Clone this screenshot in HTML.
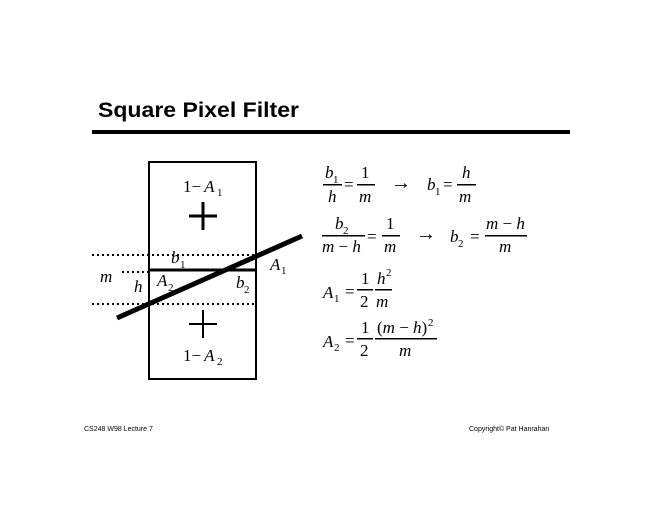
<!DOCTYPE html>
<html><head><style>
html,body{margin:0;padding:0;background:#fff;width:660px;height:510px;overflow:hidden}
svg{display:block}
.t{font-family:"Liberation Serif",serif;font-size:17px}
.i{font-style:italic}
.s{font-size:11px}
</style></head><body>
<svg width="660" height="510" viewBox="0 0 660 510">
<text x="98" y="117" font-family="Liberation Sans,sans-serif" font-weight="bold" font-size="21" textLength="201" lengthAdjust="spacingAndGlyphs">Square Pixel Filter</text>
<rect x="92" y="130" width="478" height="4" fill="#000"/>
<text x="84" y="431" font-family="Liberation Sans,sans-serif" font-size="7">CS248 W98 Lecture 7</text>
<text x="469" y="431" font-family="Liberation Sans,sans-serif" font-size="7">Copyright© Pat Hanrahan</text>

<rect x="149" y="162" width="107" height="217" fill="none" stroke="#000" stroke-width="2"/>
<g stroke="#000" stroke-width="2" stroke-dasharray="2,3">
<line x1="92" y1="255" x2="256" y2="255"/>
<line x1="122" y1="272" x2="148" y2="272"/>
<line x1="92" y1="304" x2="256" y2="304"/>
</g>
<line x1="148" y1="270" x2="256" y2="270" stroke="#000" stroke-width="3"/>
<line x1="117" y1="318" x2="302" y2="236" stroke="#000" stroke-width="5"/>
<g stroke="#000" stroke-width="3"><line x1="189" y1="216" x2="217" y2="216"/><line x1="203" y1="202" x2="203" y2="230"/></g>
<g stroke="#000" stroke-width="2"><line x1="189" y1="324" x2="217" y2="324"/><line x1="203" y1="310" x2="203" y2="338"/></g>
<g class="t">
<text x="183" y="192">1−<tspan class="i" dx="3">A</tspan></text><text x="217" y="196" class="s">1</text>
<text x="183" y="361">1−<tspan class="i" dx="3">A</tspan></text><text x="217" y="365" class="s">2</text>
<text x="100" y="282" class="i">m</text>
<text x="134" y="292" class="i">h</text>
<text x="157" y="286" class="i">A</text><text x="168" y="291" class="s">2</text>
<text x="171" y="263" class="i">b</text><text x="180" y="268" class="s">1</text>
<text x="236" y="288" class="i">b</text><text x="244" y="293" class="s">2</text>
<text x="270" y="270" class="i">A</text><text x="281" y="274" class="s">1</text>
</g>

<g class="t" fill="#000">
<text x="325" y="178" class="i">b</text><text x="333" y="183" class="s">1</text>
<text x="328" y="202" class="i">h</text>
<rect x="323" y="184" width="19" height="1.5"/>
<text x="344" y="190">=</text>
<text x="361" y="178">1</text><text x="359" y="202" class="i">m</text>
<rect x="357" y="184" width="18" height="1.5"/>
<text x="391" y="189" font-size="20">→</text>
<text x="427" y="190" class="i">b</text><text x="435" y="195" class="s">1</text>
<text x="443" y="190">=</text>
<text x="462" y="178" class="i">h</text><text x="459" y="202" class="i">m</text>
<rect x="457" y="184" width="19" height="1.5"/>

<text x="335" y="229" class="i">b</text><text x="343" y="234" class="s">2</text>
<text x="322" y="252"><tspan class="i">m</tspan> − <tspan class="i">h</tspan></text>
<rect x="322" y="235" width="43" height="1.5"/>
<text x="367" y="242">=</text>
<text x="386" y="229">1</text><text x="384" y="252" class="i">m</text>
<rect x="382" y="235" width="18" height="1.5"/>
<text x="416" y="240" font-size="20">→</text>
<text x="450" y="242" class="i">b</text><text x="458" y="247" class="s">2</text>
<text x="470" y="242">=</text>
<text x="486" y="229"><tspan class="i">m</tspan> − <tspan class="i">h</tspan></text>
<text x="499" y="252" class="i">m</text>
<rect x="485" y="235" width="42" height="1.5"/>

<text x="323" y="298" class="i">A</text><text x="334" y="302" class="s">1</text>
<text x="345" y="297">=</text>
<text x="361" y="284">1</text><text x="360" y="307">2</text>
<rect x="357" y="289" width="16" height="1.5"/>
<text x="377" y="284" class="i">h</text><text x="386" y="276" class="s">2</text>
<text x="376" y="307" class="i">m</text>
<rect x="375" y="289" width="17" height="1.5"/>

<text x="323" y="347" class="i">A</text><text x="334" y="351" class="s">2</text>
<text x="345" y="346">=</text>
<text x="361" y="333">1</text><text x="360" y="356">2</text>
<rect x="357" y="338" width="16" height="1.5"/>
<text x="377" y="333">(<tspan class="i">m</tspan> − <tspan class="i">h</tspan>)</text><text x="428" y="326" class="s">2</text>
<text x="399" y="356" class="i">m</text>
<rect x="375" y="338" width="62" height="1.5"/>
</g>
</svg>
</body></html>
